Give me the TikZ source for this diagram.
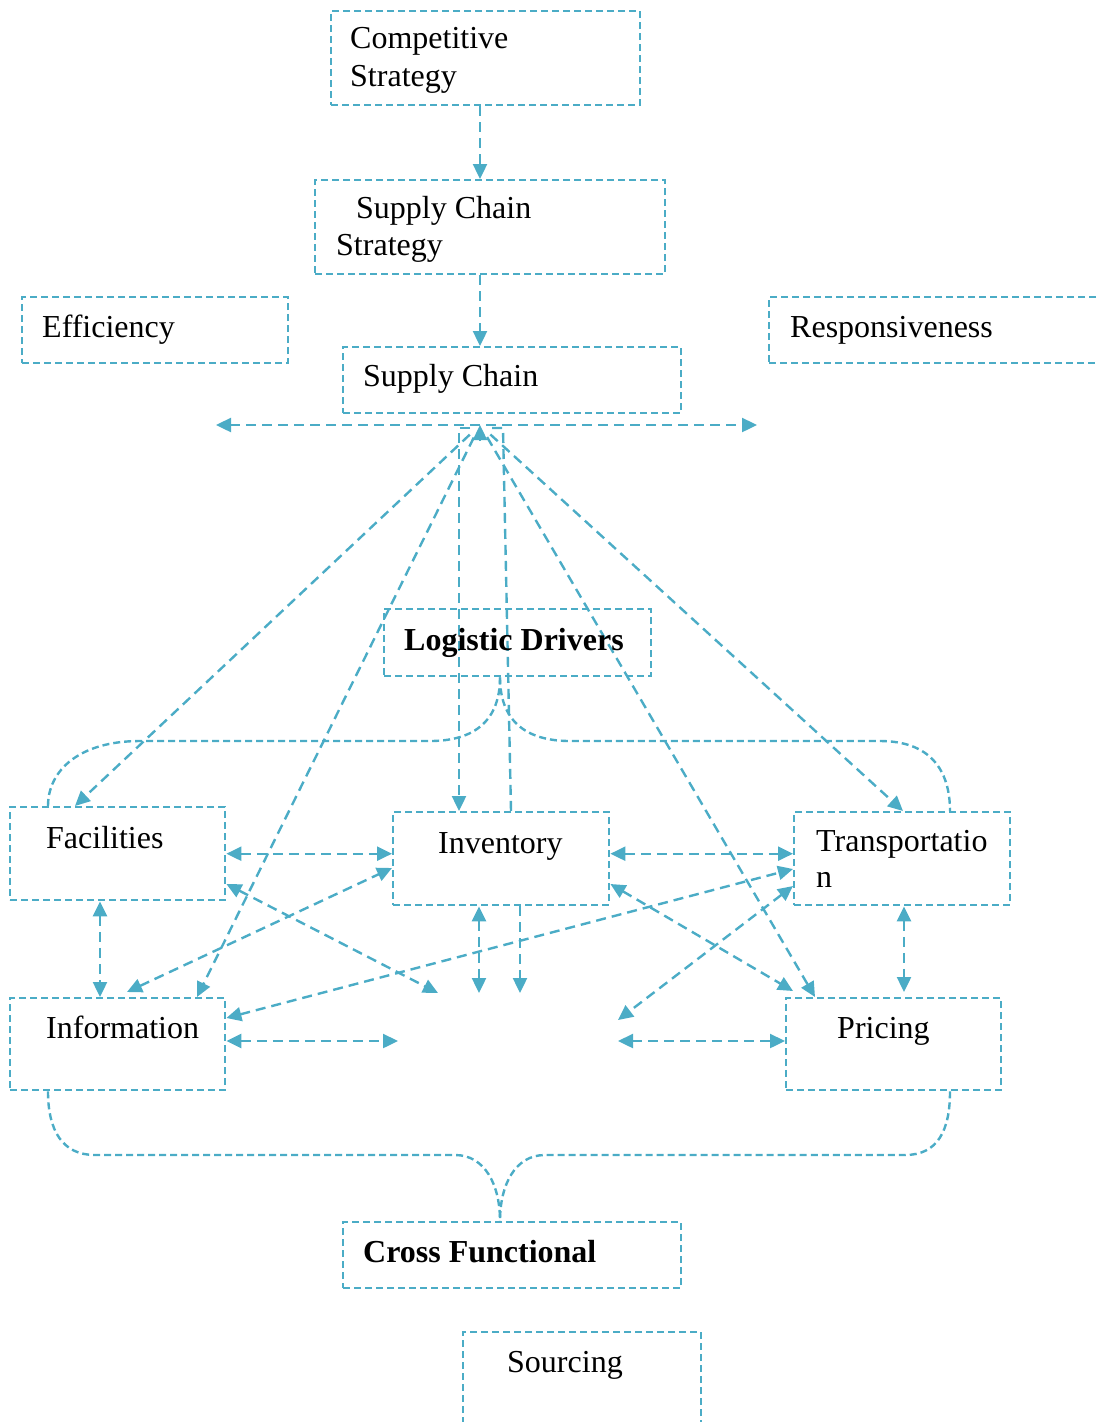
\documentclass[tikz,border=0pt]{standalone}
\usepackage{fontspec}
\setmainfont{Liberation Serif}
\usetikzlibrary{arrows.meta,calc}
\definecolor{lc}{RGB}{75,172,198}
\begin{document}
\begin{tikzpicture}[x=1pt,y=-1pt,
 box/.style={draw=lc, line width=2.4pt, dash pattern=on 7pt off 4pt, anchor=north west, inner sep=0pt},
 txt/.style={anchor=base west, inner sep=0pt, font=\fontsize{32}{37}\selectfont},
 btxt/.style={anchor=base west, inner sep=0pt, font=\fontsize{32}{37}\selectfont\bfseries},
 con/.style={draw=lc, line width=2.4pt, dash pattern=on 10pt off 6pt, >={Triangle[length=15pt,width=14pt]}},
 brc/.style={draw=lc, line width=2.4pt, dash pattern=on 7pt off 4pt},
]
\useasboundingbox (0,0) rectangle (1097,1422);

% boxes
\node[box, minimum width=309pt, minimum height=94pt] (cs) at (330,10) {};
\node[box, minimum width=350pt, minimum height=94pt] (scs) at (314,179) {};
\node[box, minimum width=266pt, minimum height=66pt] (eff) at (21,296) {};
\node[box, minimum width=345pt, minimum height=66pt] (resp) at (768,296) {};
\node[box, minimum width=338pt, minimum height=66pt] (sc) at (342,346) {};
\node[box, minimum width=267pt, minimum height=67pt] (ld) at (383,608) {};
\node[box, minimum width=215pt, minimum height=93pt] (fac) at (9,806) {};
\node[box, minimum width=216pt, minimum height=93pt] (inv) at (392,811) {};
\node[box, minimum width=216pt, minimum height=93pt] (tra) at (793,811) {};
\node[box, minimum width=215pt, minimum height=92pt] (inf) at (9,997) {};
\node[box, minimum width=215pt, minimum height=92pt] (pri) at (785,997) {};
\node[box, minimum width=338pt, minimum height=66pt] (cf) at (342,1221) {};
\node[box, minimum width=238pt, minimum height=110pt] (src) at (462,1331) {};

% free ends
\coordinate (hub) at (480,425);
\coordinate (hl) at (216,425);
\coordinate (hr) at (757,425);
\coordinate (c1) at (479,993);
\coordinate (c2) at (520,993);
\coordinate (c3) at (438,993);
\coordinate (c4) at (398,1041);
\coordinate (c5) at (618,1020);
\coordinate (c6) at (618,1041);
\coordinate (lt) at (459,428);
\coordinate (ltr) at (470,428);
\coordinate (rt) at (503,428);
\coordinate (rtl) at (492,428);

% top chain
\draw[con,->] ($(cs.south west)+(150,0)$) -- ($(scs.north west)+(166,0)$);
\draw[con,->] ($(scs.south west)+(166,0)$) -- ($(sc.north west)+(138,0)$);
\draw[con,<->] (hl) -- (hr);

% hub fan
\draw[con,->,shorten <=14pt] (hub) -- ($(fac.north west)+(66,0)$);
\draw[con,->,shorten <=14pt] (hub) -- ($(inf.north west)+(188,0)$);
\draw[con,->,shorten <=14pt] (hub) -- ($(pri.north west)+(30,0)$);
\draw[con,->,shorten <=14pt] (hub) -- ($(tra.north west)+(110,0)$);
\draw[con,->] (ltr) -- (lt) -- ($(inv.north west)+(67,0)$);
\draw[con] (rtl) -- (rt) -- ($(inv.north west)+(119,0)$);
\draw[con,->] ($(hub)+(0,16)$) -- (hub);

% driver links
\draw[con,<->] (fac.east) -- (fac.east -| inv.west);
\draw[con,<->] (inv.east |- fac.east) -- (tra.west |- fac.east);
\draw[con,<->] ($(fac.south west)+(91,0)$) -- ($(inf.north west)+(91,0)$);
\draw[con,<->] ($(tra.south west)+(111,0)$) -- ($(pri.north west)+(119,-5)$);
\draw[con,<->] ($(inv.south west)+(87,0)$) -- (c1);
\draw[con,->] ($(inv.south west)+(128,0)$) -- (c2);
\draw[con,<->] ($(fac.north east)+(0,78)$) -- (c3);
\draw[con,<->] ($(inf.north west)+(118,-5)$) -- ($(inv.north west)+(0,57)$);
\draw[con,<->] ($(inf.north east)+(0,21)$) -- ($(tra.north west)+(0,58)$);
\draw[con,<->] ($(inf.north east)+(0,44)$) -- (c4);
\draw[con,<->] ($(inv.north east)+(0,73)$) -- ($(pri.north west)+(8,-6)$);
\draw[con,<->] ($(tra.north west)+(0,75)$) -- (c5);
\draw[con,<->] (c6) -- ($(pri.north west)+(0,44)$);

% braces
\draw[brc] ($(ld.south west)+(117,0)$) .. controls (500,720) and (475,741) .. (430,741) -- (140,741) .. controls (80,741) and (48,770) .. ($(fac.north west)+(39,0)$);
\draw[brc] ($(ld.south west)+(117,0)$) .. controls (500,720) and (525,741) .. (570,741) -- (880,741) .. controls (930,741) and (950,770) .. ($(tra.north west)+(157,0)$);
\draw[brc] ($(inf.south west)+(39,0)$) .. controls (48,1130) and (62,1155) .. (95,1155) -- (455,1155) .. controls (485,1155) and (500,1185) .. ($(cf.north west)+(158,0)$);
\draw[brc] ($(pri.south west)+(165,0)$) .. controls (950,1130) and (938,1155) .. (905,1155) -- (545,1155) .. controls (515,1155) and (500,1185) .. ($(cf.north west)+(158,0)$);

% texts
\node[txt] (t1) at (350,48) {Competitive};
\node[txt] (t2) at (350,86) {Strategy};
\node[txt] (t3) at (356,218) {Supply Chain};
\node[txt] (t4) at (336,255) {Strategy};
\node[txt] (t5) at (42,337) {Efficiency};
\node[txt] (t6) at (790,337) {Responsiveness};
\node[txt] (t7) at (363,386) {Supply Chain};
\node[btxt] (t8) at (404,650) {Logistic Drivers};
\node[txt] (t9) at (46,848) {Facilities};
\node[txt] (t10) at (438,853) {Inventory};
\node[txt] (t11) at (816,851) {Transportatio};
\node[txt] (t12) at (816,887) {n};
\node[txt] (t13) at (46,1038) {Information};
\node[txt] (t14) at (837,1038) {Pricing};
\node[btxt] (t15) at (363,1262) {Cross Functional};
\node[txt] (t16) at (507,1372) {Sourcing};
\end{tikzpicture}
\end{document}
